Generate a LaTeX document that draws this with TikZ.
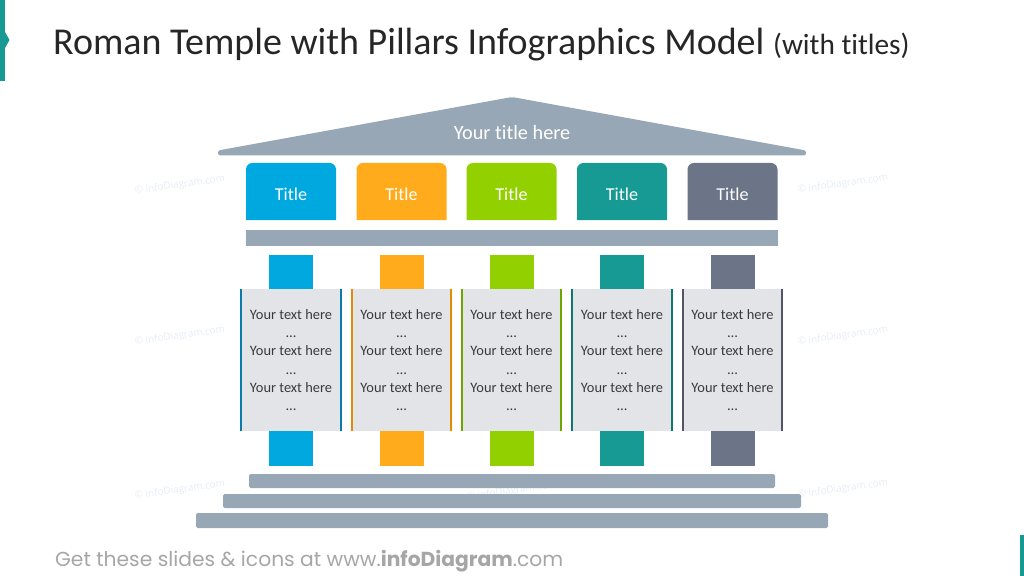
\documentclass[tikz,border=0pt]{standalone}
\usepackage{fontspec}
\setmainfont{Carlito}[Ligatures={NoCommon}]
\newfontfamily\footfont{Poppins}
\newfontfamily\wmfont{Open Sans}
\definecolor{roofgray}{HTML}{97A7B5}
\definecolor{cA}{HTML}{00A8E0}
\definecolor{cB}{HTML}{FFAB1C}
\definecolor{cC}{HTML}{92D000}
\definecolor{cD}{HTML}{169A93}
\definecolor{cE}{HTML}{6C7488}
\definecolor{dA}{HTML}{0A7BAA}
\definecolor{dB}{HTML}{E08C00}
\definecolor{dC}{HTML}{6EA600}
\definecolor{dD}{HTML}{0E776F}
\definecolor{dE}{HTML}{4F566A}
\definecolor{panelfill}{HTML}{E3E4E8}
\definecolor{paneltext}{HTML}{3A3A3A}
\definecolor{titletextc}{HTML}{262626}
\definecolor{footgray}{HTML}{A6A6A6}
\definecolor{wmcol}{HTML}{E6ECF4}
\definecolor{accent}{HTML}{169A93}
\tikzset{
  titletext/.style={text=white, font=\fontsize{17}{20}\selectfont, inner sep=0pt},
  pillarblock/.style={inner sep=0pt, draw=none, minimum width=41.25pt, minimum height=31.875pt},
  panel/.style={inner sep=0pt, fill=panelfill, minimum width=92.8pt, minimum height=133.1pt,
     align=center, text=paneltext, font=\fontsize{13.5}{17}\selectfont},
  wmstyle/.style={text=wmcol, font=\wmfont\fontsize{9.3}{11}\selectfont, rotate=8, inner sep=0pt},
  stepbar/.style={fill=roofgray, rounded corners=1.5pt}
}
\begin{document}
\begin{tikzpicture}[x=0.9375pt,y=-0.9375pt]
\useasboundingbox (0,0) rectangle (1024,576);
% accent marks
\fill[accent] (0,0) rectangle (5,81);
\fill[accent] (5,32) -- (9.5,40) -- (5,48) -- cycle;
\fill[accent] (1020,535) rectangle (1024,576);
% heading
\node[anchor=base west, inner sep=0pt, text=titletextc, font=\fontsize{35.6}{40}\selectfont] (heading) at (53,55)
  {Roman Temple with Pillars Infographics Model {\fontsize{27.5}{30}\selectfont(with titles)}};
% watermarks
\node[wmstyle] (wm1) at (180,185) {© infoDiagram.com};
\node[wmstyle] (wm2) at (180,336) {© infoDiagram.com};
\node[wmstyle] (wm3) at (180,490) {© infoDiagram.com};
\node[wmstyle] (wm4) at (843,184) {© infoDiagram.com};
\node[wmstyle] (wm5) at (843,336) {© infoDiagram.com};
\node[wmstyle] (wm6) at (843,489) {© infoDiagram.com};
\node[wmstyle] (wm7) at (512,491) {© infoDiagram.com};
% roof
\fill[roofgray, rounded corners=2pt] (218,155.5) -- (218,150.5) -- (512,97) -- (806,150.5) -- (806,155.5) -- cycle;
\node[anchor=base, inner sep=0pt, text=white, font=\fontsize{19}{22}\selectfont] (rooftitle) at (512,140) {Your title here};
% architrave
\fill[roofgray] (246,230) rectangle (778,246);
% pillars
\foreach \i/\cx/\c/\d in {1/291/cA/dA, 2/401.5/cB/dB, 3/511.5/cC/dC, 4/622/cD/dD, 5/732.5/cE/dE}{
  \fill[\c] (\cx-45,220) [rounded corners=6pt] -- (\cx-45,163) -- (\cx+45,163) [sharp corners] -- (\cx+45,220) -- cycle;
  \node[titletext] (t\i) at (\cx,194) {Title};
  \node[pillarblock, fill=\c] (cap\i) at (\cx,272) {};
  \node[pillarblock, fill=\c, minimum height=32.8pt] (base\i) at (\cx,448.5) {};
  \node[panel] (p\i) at (\cx,360) {Your text here\\…\\Your text here\\…\\Your text here\\…};
  \draw[\d, line width=1.6pt] (p\i.north west) -- (p\i.south west) (p\i.north east) -- (p\i.south east);
}
% steps
\fill[stepbar] (249,488) -- (249,474) -- (775,474) -- (775,488) -- cycle;
\fill[stepbar] (223,508) -- (223,494) -- (801,494) -- (801,508) -- cycle;
\fill[stepbar] (196,528) -- (196,513) -- (828,513) -- (828,528) -- cycle;
% footer
\node[anchor=base west, inner sep=0pt, text=footgray, font=\footfont\fontsize{19}{22}\selectfont] (footer) at (55,566)
  {Get these slides \& icons at www.{\bfseries infoDiagram}.com};
\end{tikzpicture}
\end{document}
